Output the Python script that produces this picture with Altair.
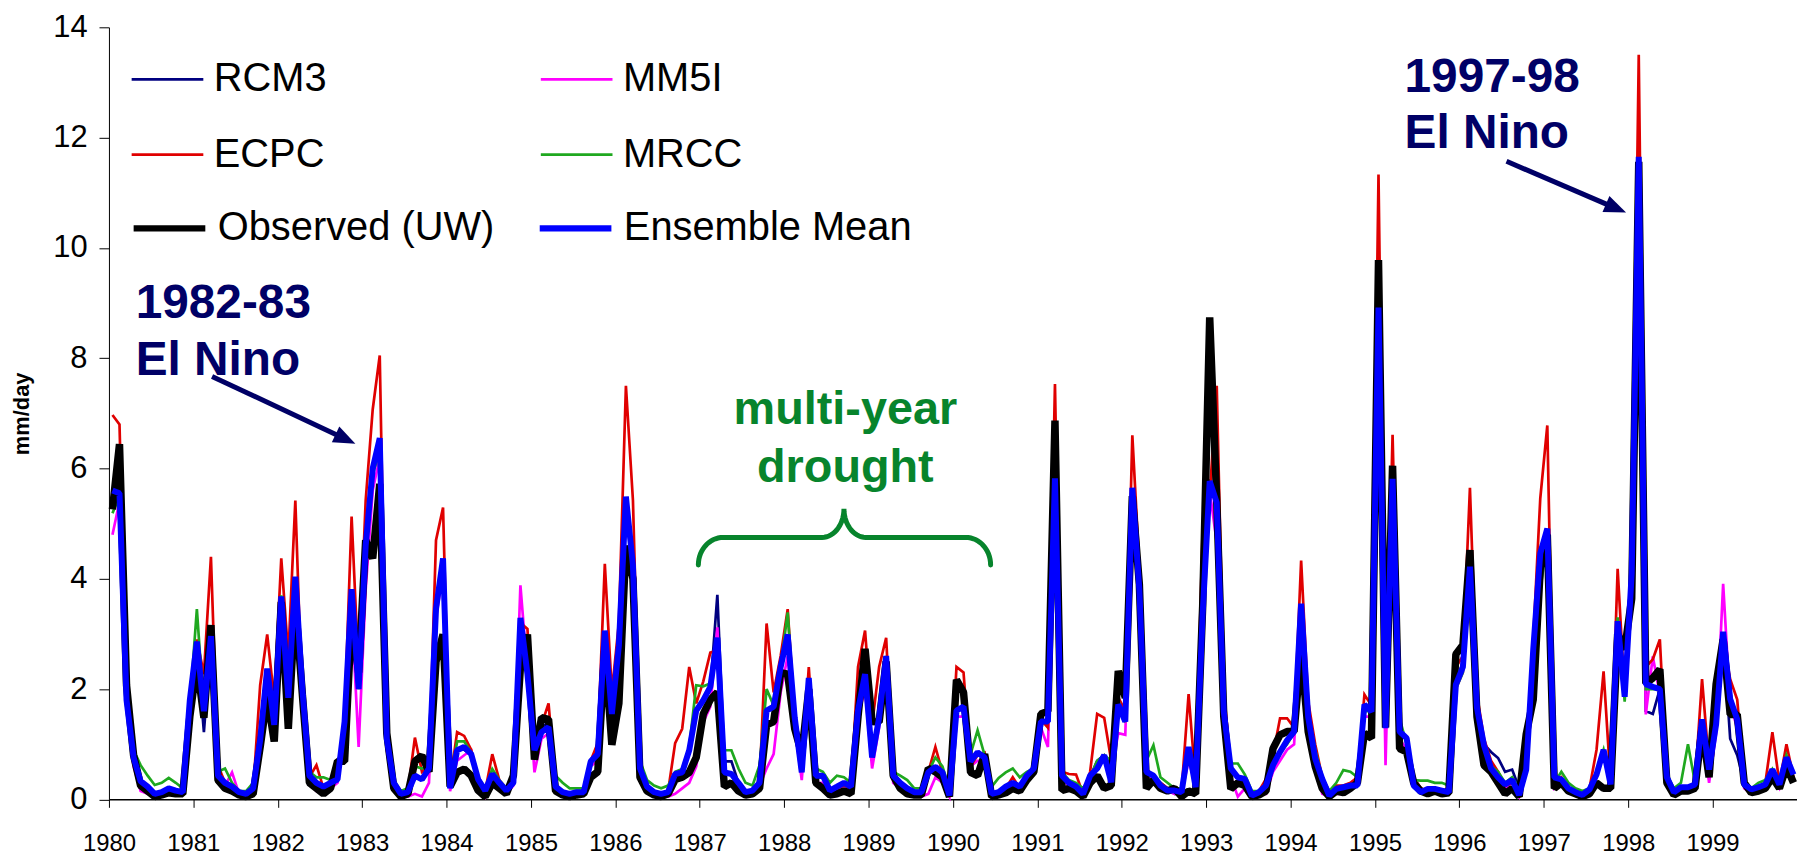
import altair as alt
import pandas as pd
import numpy as np

SERIES = ["RCM3", "MM5I", "ECPC", "MRCC", "Observed (UW)", "Ensemble Mean"]
THIN = ["RCM3", "ECPC", "MM5I", "MRCC"]          # legend order (column-major)
THIN_COLORS = ["#000080", "#e00000", "#ff00ff", "#1fa81f"]
THICK = ["Observed (UW)", "Ensemble Mean"]
THICK_COLORS = ["#000000", "#0000ff"]
YEAR_TICKS = list(range(0, 240, 12))
Y_TICKS = [0, 2, 4, 6, 8, 10, 12, 14]

# monthly precipitation, Jan 1980 .. Dec 1999 (mm/day), one row per year
rcm3 = [
    5.50, 5.50, 1.80, 0.70, 0.30, 0.20, 0.10, 0.10, 0.20, 0.15, 0.10, 1.80,
    2.80, 1.22, 2.90, 0.40, 0.30, 0.20, 0.10, 0.10, 0.20, 1.00, 2.30, 1.30,
    3.60, 1.80, 4.00, 2.00, 0.40, 0.30, 0.20, 0.30, 0.40, 1.40, 3.70, 2.00,
    4.50, 6.00, 6.40, 1.10, 0.30, 0.10, 0.10, 0.40, 0.40, 0.60, 3.40, 4.30,
    0.20, 0.90, 0.90, 0.80, 0.40, 0.15, 0.45, 0.30, 0.15, 0.30, 3.20, 2.30,
    0.90, 1.30, 1.40, 0.20, 0.10, 0.10, 0.10, 0.10, 0.70, 0.80, 3.00, 1.50,
    2.80, 5.40, 4.20, 0.50, 0.20, 0.10, 0.10, 0.10, 0.40, 0.50, 0.90, 1.60,
    1.80, 2.00, 3.71, 0.69, 0.69, 0.30, 0.15, 0.15, 0.30, 1.60, 1.70, 2.40,
    2.90, 1.50, 0.50, 2.20, 0.40, 0.40, 0.15, 0.20, 0.30, 0.20, 1.60, 2.30,
    0.80, 1.50, 2.60, 0.40, 0.30, 0.20, 0.10, 0.10, 0.50, 0.60, 0.50, 0.05,
    1.60, 1.70, 0.70, 0.85, 0.75, 0.10, 0.15, 0.20, 0.30, 0.20, 0.40, 0.55,
    1.40, 1.40, 5.80, 0.40, 0.30, 0.20, 0.10, 0.40, 0.70, 0.80, 0.60, 1.70,
    1.40, 5.60, 3.80, 0.55, 0.40, 0.30, 0.20, 0.10, 0.10, 0.90, 0.30, 3.40,
    5.80, 5.50, 1.60, 0.55, 0.40, 0.35, 0.10, 0.10, 0.20, 0.60, 0.85, 1.05,
    1.20, 3.50, 1.50, 0.80, 0.35, 0.10, 0.20, 0.20, 0.25, 0.30, 1.70, 1.60,
    8.90, 1.30, 5.80, 1.20, 1.10, 0.30, 0.15, 0.20, 0.20, 0.15, 0.15, 2.10,
    2.50, 4.20, 1.70, 1.00, 0.86, 0.75, 0.50, 0.54, 0.20, 0.60, 2.70, 4.40,
    4.90, 0.30, 0.35, 0.20, 0.15, 0.10, 0.20, 0.45, 0.90, 0.30, 3.20, 1.90,
    4.10, 11.60, 1.60, 1.55, 2.00, 0.40, 0.15, 0.20, 0.20, 0.30, 1.40, 0.50,
    1.40, 3.00, 1.10, 0.80, 0.30, 0.20, 0.20, 0.30, 0.50, 0.30, 0.70, 0.40,
]
mm5i = [
    4.80, 5.40, 1.70, 0.60, 0.15, 0.10, 0.05, 0.10, 0.10, 0.10, 0.10, 1.70,
    2.70, 1.50, 2.80, 0.30, 0.25, 0.49, 0.10, 0.05, 0.10, 0.90, 2.20, 1.30,
    3.50, 1.80, 3.80, 1.60, 0.30, 0.15, 0.10, 0.20, 0.30, 1.20, 3.50, 0.95,
    3.80, 5.60, 6.20, 0.90, 0.15, 0.05, 0.05, 0.10, 0.05, 0.30, 3.30, 4.10,
    0.15, 0.70, 0.80, 0.89, 0.30, 0.05, 0.40, 0.25, 0.10, 0.25, 3.88, 2.30,
    0.49, 1.10, 1.20, 0.20, 0.10, 0.05, 0.10, 0.10, 0.60, 0.70, 2.90, 1.40,
    2.60, 5.30, 4.10, 0.50, 0.15, 0.10, 0.05, 0.05, 0.10, 0.20, 0.30, 0.60,
    1.40, 1.68, 3.12, 0.30, 0.30, 0.20, 0.10, 0.10, 0.25, 0.56, 0.82, 1.94,
    2.60, 1.30, 0.35, 2.00, 0.30, 0.30, 0.10, 0.15, 0.20, 0.15, 1.50, 2.00,
    0.56, 1.30, 2.50, 0.30, 0.20, 0.10, 0.05, 0.05, 0.10, 0.40, 0.30, 0.05,
    1.50, 1.50, 0.60, 0.70, 0.70, 0.05, 0.10, 0.15, 0.25, 0.15, 0.35, 0.50,
    1.30, 0.95, 5.60, 0.35, 0.25, 0.20, 0.05, 0.35, 0.60, 0.70, 0.50, 1.20,
    1.17, 5.40, 3.60, 0.50, 0.35, 0.25, 0.15, 0.10, 0.10, 0.70, 0.25, 3.20,
    5.60, 4.65, 1.40, 0.40, 0.05, 0.20, 0.05, 0.10, 0.10, 0.50, 0.70, 0.90,
    1.00, 3.30, 1.40, 0.70, 0.10, 0.05, 0.10, 0.10, 0.20, 0.30, 1.50, 1.50,
    8.70, 0.62, 5.70, 1.10, 0.90, 0.30, 0.15, 0.10, 0.15, 0.10, 0.10, 2.00,
    2.30, 4.10, 1.50, 0.90, 0.50, 0.40, 0.20, 0.30, 0.05, 0.50, 2.60, 4.30,
    4.60, 0.20, 0.30, 0.15, 0.10, 0.05, 0.15, 0.40, 0.80, 0.20, 3.00, 1.90,
    3.90, 11.40, 1.54, 2.59, 1.90, 0.35, 0.10, 0.15, 0.15, 0.20, 1.30, 0.30,
    1.20, 3.91, 1.70, 1.30, 0.20, 0.10, 0.15, 0.20, 0.40, 0.20, 0.60, 0.35,
]
ecpc = [
    6.97, 6.80, 1.90, 0.80, 0.30, 0.20, 0.10, 0.10, 0.20, 0.15, 0.15, 1.90,
    2.90, 2.27, 4.40, 0.62, 0.30, 0.20, 0.10, 0.10, 0.15, 2.07, 2.99, 1.81,
    4.37, 2.60, 5.42, 1.60, 0.40, 0.62, 0.20, 0.25, 0.40, 1.50, 5.13, 2.30,
    5.42, 7.07, 8.05, 1.10, 0.25, 0.10, 0.15, 1.12, 0.50, 0.60, 4.70, 5.29,
    0.30, 1.22, 1.15, 0.90, 0.40, 0.15, 0.82, 0.35, 0.20, 0.35, 3.20, 3.09,
    1.00, 1.35, 1.74, 0.25, 0.15, 0.10, 0.15, 0.15, 0.70, 1.02, 4.27, 1.94,
    3.20, 7.50, 5.42, 0.70, 0.25, 0.15, 0.10, 0.15, 1.02, 1.28, 2.40, 1.74,
    2.14, 2.66, 2.70, 0.50, 0.45, 0.25, 0.15, 0.15, 0.30, 3.19, 1.94, 2.60,
    3.45, 1.50, 0.50, 2.40, 0.45, 0.40, 0.15, 0.20, 0.25, 0.20, 2.40, 3.06,
    1.35, 2.40, 2.93, 0.45, 0.30, 0.15, 0.10, 0.10, 0.50, 0.95, 0.49, 0.10,
    2.40, 2.30, 0.60, 0.80, 0.85, 0.10, 0.15, 0.20, 0.40, 0.20, 0.40, 0.55,
    1.45, 1.30, 7.53, 0.50, 0.46, 0.45, 0.10, 0.50, 1.55, 1.48, 0.70, 1.85,
    1.60, 6.60, 4.20, 0.55, 0.40, 0.30, 0.20, 0.15, 0.15, 1.91, 0.30, 4.90,
    5.50, 7.50, 2.00, 0.60, 0.40, 0.35, 0.10, 0.15, 0.37, 0.80, 1.47, 1.47,
    1.30, 4.33, 1.78, 1.00, 0.40, 0.10, 0.25, 0.25, 0.30, 0.40, 1.90, 1.70,
    11.33, 1.40, 6.61, 1.30, 1.10, 0.40, 0.20, 0.15, 0.20, 0.15, 0.20, 2.40,
    2.60, 5.65, 1.90, 1.10, 0.70, 0.50, 0.25, 0.30, 0.10, 0.60, 2.90, 5.46,
    6.78, 0.30, 0.40, 0.20, 0.15, 0.10, 0.20, 0.90, 2.32, 0.30, 4.18, 1.90,
    4.00, 13.50, 2.40, 2.54, 2.90, 0.40, 0.15, 0.20, 0.20, 0.30, 2.18, 0.60,
    1.50, 2.90, 2.18, 1.81, 0.30, 0.15, 0.20, 0.30, 1.22, 0.30, 1.00, 0.40,
]
mrcc = [
    5.19, 5.50, 2.00, 0.90, 0.62, 0.43, 0.26, 0.30, 0.39, 0.30, 0.20, 1.70,
    3.45, 1.60, 2.90, 0.50, 0.56, 0.30, 0.15, 0.15, 0.30, 1.00, 2.30, 1.40,
    3.70, 1.90, 3.90, 1.80, 0.50, 0.40, 0.40, 0.35, 0.40, 1.40, 3.60, 2.00,
    4.40, 5.90, 6.30, 1.20, 0.35, 0.15, 0.20, 0.60, 0.56, 0.60, 3.60, 4.20,
    0.30, 1.05, 1.05, 0.85, 0.40, 0.20, 0.55, 0.35, 0.20, 0.35, 3.20, 2.30,
    0.95, 1.20, 1.30, 0.43, 0.30, 0.20, 0.20, 0.20, 0.70, 0.85, 3.00, 1.60,
    2.70, 5.30, 4.20, 0.70, 0.35, 0.25, 0.20, 0.25, 0.50, 0.55, 0.95, 2.07,
    2.05, 2.10, 2.80, 0.89, 0.89, 0.56, 0.30, 0.25, 0.62, 2.00, 1.70, 2.40,
    3.39, 1.50, 0.60, 2.20, 0.56, 0.50, 0.30, 0.43, 0.40, 0.30, 1.60, 2.30,
    0.80, 1.50, 2.50, 0.50, 0.43, 0.35, 0.20, 0.20, 0.50, 0.76, 0.60, 0.20,
    1.60, 1.70, 0.82, 1.25, 0.80, 0.23, 0.39, 0.49, 0.56, 0.40, 0.50, 0.56,
    1.40, 1.40, 5.70, 0.50, 0.35, 0.30, 0.20, 0.40, 0.70, 0.80, 0.70, 1.80,
    1.40, 5.50, 3.70, 0.70, 0.98, 0.40, 0.30, 0.20, 0.20, 0.90, 0.35, 3.30,
    5.60, 5.40, 1.60, 0.65, 0.65, 0.45, 0.15, 0.15, 0.20, 0.60, 0.85, 1.00,
    1.20, 3.40, 1.60, 0.90, 0.40, 0.15, 0.30, 0.53, 0.50, 0.40, 1.60, 1.60,
    8.80, 1.30, 5.80, 1.47, 1.00, 0.35, 0.34, 0.34, 0.30, 0.30, 0.25, 2.00,
    2.30, 4.00, 1.60, 1.00, 0.60, 0.50, 0.30, 0.40, 0.20, 0.50, 2.50, 3.80,
    4.70, 0.30, 0.50, 0.30, 0.20, 0.15, 0.20, 0.50, 0.90, 0.30, 3.30, 1.77,
    4.00, 11.50, 2.00, 2.00, 2.00, 0.45, 0.20, 0.30, 1.00, 0.30, 1.40, 0.60,
    1.30, 3.00, 1.80, 1.40, 0.30, 0.20, 0.30, 0.35, 0.55, 0.30, 0.80, 0.45,
]
observed = [
    5.26, 6.44, 2.07, 0.80, 0.25, 0.15, 0.05, 0.08, 0.12, 0.10, 0.10, 1.50,
    2.47, 1.48, 3.16, 0.35, 0.20, 0.15, 0.08, 0.05, 0.10, 0.95, 1.87, 1.05,
    3.58, 1.28, 3.58, 1.90, 0.30, 0.20, 0.10, 0.20, 0.69, 0.69, 3.30, 2.30,
    4.70, 4.37, 5.72, 1.20, 0.20, 0.05, 0.10, 0.69, 0.79, 0.50, 2.50, 2.99,
    0.23, 0.49, 0.55, 0.43, 0.16, 0.05, 0.30, 0.20, 0.10, 0.43, 2.40, 2.99,
    0.72, 1.48, 1.45, 0.15, 0.08, 0.05, 0.08, 0.10, 0.40, 0.50, 2.73, 0.99,
    1.74, 4.60, 4.00, 0.40, 0.15, 0.08, 0.05, 0.10, 0.36, 0.40, 0.49, 0.76,
    1.55, 1.81, 1.94, 0.23, 0.30, 0.15, 0.08, 0.10, 0.20, 1.35, 1.41, 2.30,
    2.27, 1.28, 0.82, 2.00, 0.30, 0.20, 0.08, 0.10, 0.15, 0.10, 1.50, 2.73,
    1.41, 1.40, 2.50, 0.43, 0.20, 0.10, 0.08, 0.08, 0.56, 0.50, 0.40, 0.05,
    2.17, 1.94, 0.49, 0.43, 0.82, 0.05, 0.08, 0.12, 0.20, 0.15, 0.35, 0.50,
    1.55, 1.60, 6.87, 0.16, 0.20, 0.15, 0.05, 0.30, 0.43, 0.20, 0.25, 2.33,
    1.84, 5.50, 3.90, 0.20, 0.35, 0.20, 0.15, 0.20, 0.05, 0.15, 0.10, 3.50,
    8.74, 5.42, 1.50, 0.19, 0.30, 0.25, 0.05, 0.08, 0.15, 0.92, 1.17, 1.23,
    1.23, 2.67, 1.23, 0.60, 0.20, 0.05, 0.15, 0.12, 0.20, 0.30, 1.20, 1.11,
    9.78, 1.30, 6.05, 0.92, 0.86, 0.30, 0.15, 0.10, 0.15, 0.10, 0.12, 2.63,
    2.80, 4.52, 1.50, 0.62, 0.50, 0.30, 0.10, 0.20, 0.05, 1.18, 1.81, 4.20,
    4.80, 0.20, 0.30, 0.15, 0.10, 0.05, 0.10, 0.30, 0.20, 0.20, 3.00, 2.72,
    3.64, 11.56, 2.10, 2.20, 2.36, 0.30, 0.08, 0.15, 0.15, 0.20, 1.30, 0.40,
    2.09, 2.90, 1.54, 1.54, 0.30, 0.12, 0.15, 0.20, 0.40, 0.20, 0.60, 0.30,
]
ensemble = [
    5.60, 5.55, 1.80, 0.76, 0.33, 0.23, 0.10, 0.13, 0.20, 0.16, 0.13, 1.80,
    2.86, 1.60, 2.96, 0.43, 0.30, 0.23, 0.13, 0.10, 0.20, 1.08, 2.37, 1.35,
    3.68, 1.84, 4.04, 2.00, 0.43, 0.30, 0.23, 0.30, 0.36, 1.41, 3.81, 2.00,
    4.60, 6.00, 6.55, 1.10, 0.30, 0.10, 0.13, 0.43, 0.36, 0.56, 3.45, 4.37,
    0.20, 0.89, 0.95, 0.82, 0.36, 0.16, 0.46, 0.30, 0.16, 0.30, 3.29, 2.27,
    0.89, 1.22, 1.31, 0.23, 0.13, 0.10, 0.13, 0.13, 0.69, 0.82, 3.06, 1.55,
    2.79, 5.49, 4.24, 0.56, 0.23, 0.13, 0.10, 0.13, 0.46, 0.49, 0.89, 1.61,
    1.80, 2.04, 2.93, 0.49, 0.46, 0.30, 0.13, 0.16, 0.30, 1.61, 1.68, 2.40,
    2.99, 1.48, 0.49, 2.20, 0.43, 0.43, 0.16, 0.23, 0.30, 0.23, 1.61, 2.27,
    0.76, 1.48, 2.60, 0.43, 0.30, 0.20, 0.13, 0.13, 0.49, 0.59, 0.49, 0.07,
    1.61, 1.68, 0.69, 0.85, 0.76, 0.10, 0.13, 0.23, 0.30, 0.23, 0.43, 0.56,
    1.41, 1.41, 5.82, 0.43, 0.30, 0.23, 0.10, 0.43, 0.56, 0.80, 0.31, 1.72,
    1.41, 5.65, 3.80, 0.50, 0.43, 0.25, 0.16, 0.16, 0.13, 0.95, 0.22, 3.36,
    5.77, 5.38, 1.59, 0.56, 0.40, 0.37, 0.07, 0.13, 0.25, 0.62, 0.86, 1.07,
    1.23, 3.55, 1.50, 0.74, 0.37, 0.07, 0.19, 0.22, 0.25, 0.25, 1.72, 1.59,
    8.92, 1.29, 5.81, 1.23, 1.11, 0.25, 0.13, 0.19, 0.19, 0.16, 0.13, 2.08,
    2.40, 4.22, 1.66, 0.98, 0.56, 0.40, 0.27, 0.35, 0.08, 0.54, 2.72, 4.46,
    4.91, 0.40, 0.36, 0.20, 0.13, 0.08, 0.18, 0.45, 0.90, 0.27, 3.23, 1.86,
    4.10, 11.65, 2.09, 2.04, 2.00, 0.40, 0.13, 0.22, 0.22, 0.27, 1.45, 0.54,
    1.36, 3.04, 1.82, 1.45, 0.27, 0.18, 0.22, 0.27, 0.54, 0.27, 0.76, 0.45,
]

# annotation text (position in month index / mm/day units)
navy_labels = ["1982-83", "El Nino", "1997-98", "El Nino"]
navy_m = [3.8, 3.8, 184.2, 184.2]
navy_v = [8.72, 7.70, 12.82, 11.81]
green_labels = ["multi-year", "drought"]
green_m = [104.7, 104.7]
green_v = [6.81, 5.76]
# arrows: start (m, v) -> tip (m, v)
arrow_start_m = [14.66, 198.7]
arrow_start_v = [7.67, 11.57]
arrow_tip_m = [35.04, 215.7]
arrow_tip_v = [6.45, 10.64]

FONT = "Liberation Sans"
NAVY = "#000066"
GREEN = "#07842c"

W, H = 1695.6, 775.5
PXM = W / 240.0
PXV = H / 14.0

values = {"RCM3": rcm3, "MM5I": mm5i, "ECPC": ecpc, "MRCC": mrcc,
          "Observed (UW)": observed, "Ensemble Mean": ensemble}
rows = []
for name in SERIES:
    vals = values[name]
    assert len(vals) == 240, (name, len(vals))
    for i, val in enumerate(vals):
        rows.append({"m": i + 0.5, "v": val, "series": name})
df = pd.DataFrame(rows)

xs = alt.Scale(domain=[0, 240], nice=False, zero=False)
ys = alt.Scale(domain=[0, 14], nice=False, zero=True)
x_axis = alt.Axis(values=YEAR_TICKS, labelExpr="'' + (1980 + datum.value / 12)",
                  title="", grid=False, tickSize=8, tickColor="black", tickWidth=1,
                  domainColor="black", domainWidth=1.5, labelFontSize=24, labelFont=FONT,
                  labelColor="black", labelPadding=24, labelFlush=False,
                  labelOverlap=False)
y_axis = alt.Axis(values=Y_TICKS, title="mm/day", grid=False, tickSize=10,
                  tickColor="black", tickWidth=1, domainColor="black", domainWidth=1,
                  labelFontSize=31, labelFont=FONT, labelColor="black", labelPadding=12,
                  titleFont=FONT, titleFontSize=22, titleFontWeight="bold",
                  titleColor="black", titleX=-88, titleY=H / 2, titleBaseline="middle",
                  titleAlign="center", titleAngle=270)
X = alt.X("m:Q", scale=xs, axis=x_axis)
Y = alt.Y("v:Q", scale=ys, axis=y_axis)

common_leg = dict(orient="none", legendX=21.3, columns=2, direction="vertical",
                  symbolType="stroke", symbolSize=5184, labelFontSize=40,
                  labelFont=FONT, labelColor="black", labelOffset=9,
                  labelLimit=1000, padding=0)
thin_leg = alt.Legend(legendY=14.5, columnPadding=209, rowPadding=17.9,
                      symbolStrokeWidth=2.7, **common_leg)
thick_leg = alt.Legend(legendY=162.2, columnPadding=31.9, rowPadding=1.8,
                       symbolStrokeWidth=6.5, **common_leg)

C_thin = alt.Color("series:N", scale=alt.Scale(domain=THIN, range=THIN_COLORS),
                   legend=thin_leg, title=None)
C_thick = alt.Stroke("series:N", scale=alt.Scale(domain=THICK, range=THICK_COLORS),
                     legend=thick_leg, title=None)

layers = []
for name in SERIES:
    if name in THICK:
        w = 7.5 if name == "Observed (UW)" else 6.0
        layers.append(
            alt.Chart(df).transform_filter(alt.datum.series == name)
            .mark_line(strokeWidth=w, strokeJoin="bevel")
            .encode(x=X, y=Y, stroke=C_thick)
        )
    else:
        layers.append(
            alt.Chart(df).transform_filter(alt.datum.series == name)
            .mark_line(strokeWidth=2.7, strokeJoin="miter")
            .encode(x=X, y=Y, color=C_thin)
        )

# annotation texts
navy_df = pd.DataFrame({"m": navy_m, "v": navy_v, "t": navy_labels})
green_df = pd.DataFrame({"m": green_m, "v": green_v, "t": green_labels})
layers.append(alt.Chart(navy_df).mark_text(align="left", baseline="alphabetic", font=FONT,
                                           fontSize=48, fontWeight="bold", color=NAVY)
              .encode(x=X, y=Y, text="t:N"))
layers.append(alt.Chart(green_df).mark_text(align="center", baseline="alphabetic", font=FONT,
                                            fontSize=47, fontWeight="bold", color=GREEN)
              .encode(x=X, y=Y, text="t:N"))

# arrows (shaft + head)
HEAD_R = 11.0
shafts, heads = [], []
for m0, v0, m1, v1 in zip(arrow_start_m, arrow_start_v, arrow_tip_m, arrow_tip_v):
    dx = (m1 - m0) * PXM
    dy = -(v1 - v0) * PXV
    L = np.hypot(dx, dy)
    ux, uy = dx / L, dy / L
    end_m = m1 - (HEAD_R + 3) * ux / PXM
    end_v = v1 + (HEAD_R + 3) * uy / PXV
    shafts.append({"m": m0, "v": v0, "m2": end_m, "v2": end_v})
    heads.append({"m": m1 - HEAD_R * ux / PXM, "v": v1 + HEAD_R * uy / PXV,
                  "ang": float(np.degrees(np.arctan2(dy, dx)))})
shaft_df = pd.DataFrame(shafts)
head_df = pd.DataFrame(heads)
layers.append(alt.Chart(shaft_df).mark_rule(color=NAVY, strokeWidth=5)
              .encode(x=X, y=Y, x2="m2:Q", y2="v2:Q"))
layers.append(alt.Chart(head_df).mark_point(shape="M1,0L-1,-0.8L-1,0.8Z", filled=True,
                                            color=NAVY, opacity=1, size=(2 * HEAD_R) ** 2)
              .encode(x=X, y=Y, angle=alt.Angle("ang:Q", scale=None)))

# curly brace over the drought years
br_left, br_right, br_mid = 83.8, 125.35, 104.5
y_end, y_h, y_cusp = 4.25, 4.75, 5.27
rx1, rx2 = 25 / PXM, 22 / PXM
t = np.linspace(0, np.pi / 2, 16)


def half(end_x, sgn):
    xs_ = list(end_x + sgn * (rx1 - rx1 * np.cos(t)))
    ys_ = list(y_end + (y_h - y_end) * np.sin(t))
    xs_ += list(br_mid - sgn * rx2 + sgn * rx2 * np.sin(t))
    ys_ += list(y_h + (y_cusp - y_h) - (y_cusp - y_h) * np.cos(t))
    return xs_, ys_


lx, ly = half(br_left, 1)
rx_, ry_ = half(br_right, -1)
bx = lx + rx_[::-1]
by = ly + ry_[::-1]
brace_df = pd.DataFrame({"m": bx, "v": by, "i": list(range(len(bx)))})
layers.append(alt.Chart(brace_df).mark_line(color=GREEN, strokeWidth=5, strokeCap="round")
              .encode(x=X, y=Y, order="i:Q"))

chart = alt.layer(*layers).properties(
    width=W, height=H,
    autosize=alt.AutoSizeParams(type="none"),
    padding={"left": 101.4, "top": 17.5, "right": 0, "bottom": 55},
).configure_view(stroke=None)

chart.save("out.html", embed_options={"renderer": "svg", "actions": False})
